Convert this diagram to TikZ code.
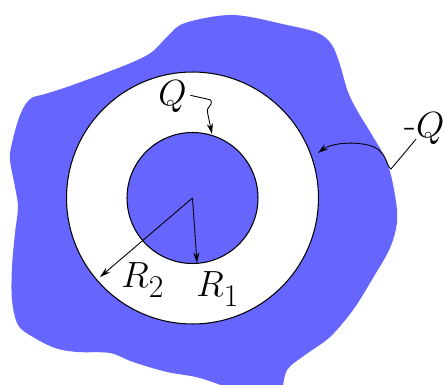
\documentclass[tikz,border=0pt]{standalone}
\usetikzlibrary{arrows.meta}
\definecolor{blobblue}{RGB}{102,102,255}
\tikzset{
  lbl/.style={font=\fontsize{22}{26}\selectfont, inner sep=0pt},
  ptr/.style={-{Stealth[length=6pt,width=3.5pt,inset=2pt]}, line width=0.5pt},
  rim/.style={draw=black, line width=0.6pt}
}
\newcommand{\sub}[1]{\raisebox{-5.7pt}{\fontsize{18}{18}\selectfont #1}}
\begin{document}
\begin{tikzpicture}[x=0.02cm, y=-0.02cm]
 \useasboundingbox (0,0) rectangle (443,385);
 % conductor around the cavity
 \fill[blobblue] plot[smooth cycle, tension=0.55] coordinates {
   (233,15) (287,25) (318,33) (332,45) (340,65) (348,92) (358,112)
   (372,135) (387,162) (395,195) (397,222) (390,248) (373,278)
   (353,310) (330,337) (305,355) (287,370) (278,395) (245,393)
   (200,378) (167,372) (133,362) (110,353) (77,352) (55,348)
   (33,337) (18,325) (12,300) (12,267) (15,233) (18,207) (15,187)
   (10,160) (12,143) (20,115) (30,99) (45,94) (67,87) (100,75)
   (133,62) (152,52) (167,37) (185,23)};
 \coordinate (ctr) at (192.5,198);
 \filldraw[rim, fill=white] (ctr) circle (2.52cm);
 \filldraw[rim, fill=blobblue] (ctr) circle (1.31cm);
 % radii
 \coordinate (rtwo) at (100,277);
 \coordinate (rone) at (197,263);
 \draw[ptr] (ctr) -- (rtwo);
 \draw[ptr] (ctr) -- (rone);
 \node[lbl, anchor=base west] (lblRtwo) at (121,287) {$R$\sub{2}};
 \node[lbl, anchor=base west] (lblRone) at (196,296) {$R$\sub{1}};
 % charges
 \node[lbl, anchor=base west] (lblQ) at (158,106) {$Q$};
 \node[lbl, anchor=base west] (lblmQ) at (404,137) {-$Q$};
 \coordinate (qin) at (212,134);
 \coordinate (qout) at (318,153);
 \draw[ptr] ([xshift=2pt, yshift=1pt]lblQ.east) -- (207,99)
   .. controls (213,99) and (212,104) .. (209,107)
   .. controls (206,110) and (208,112) .. (208,115) -- (qin);
 \draw[ptr] ([yshift=3pt]lblmQ.south west) ++(12,0) -- (391,169)
   .. controls (385,165) and (388,150) .. (368,145)
   .. controls (350,141) and (330,144) .. (qout);
\end{tikzpicture}
\end{document}
